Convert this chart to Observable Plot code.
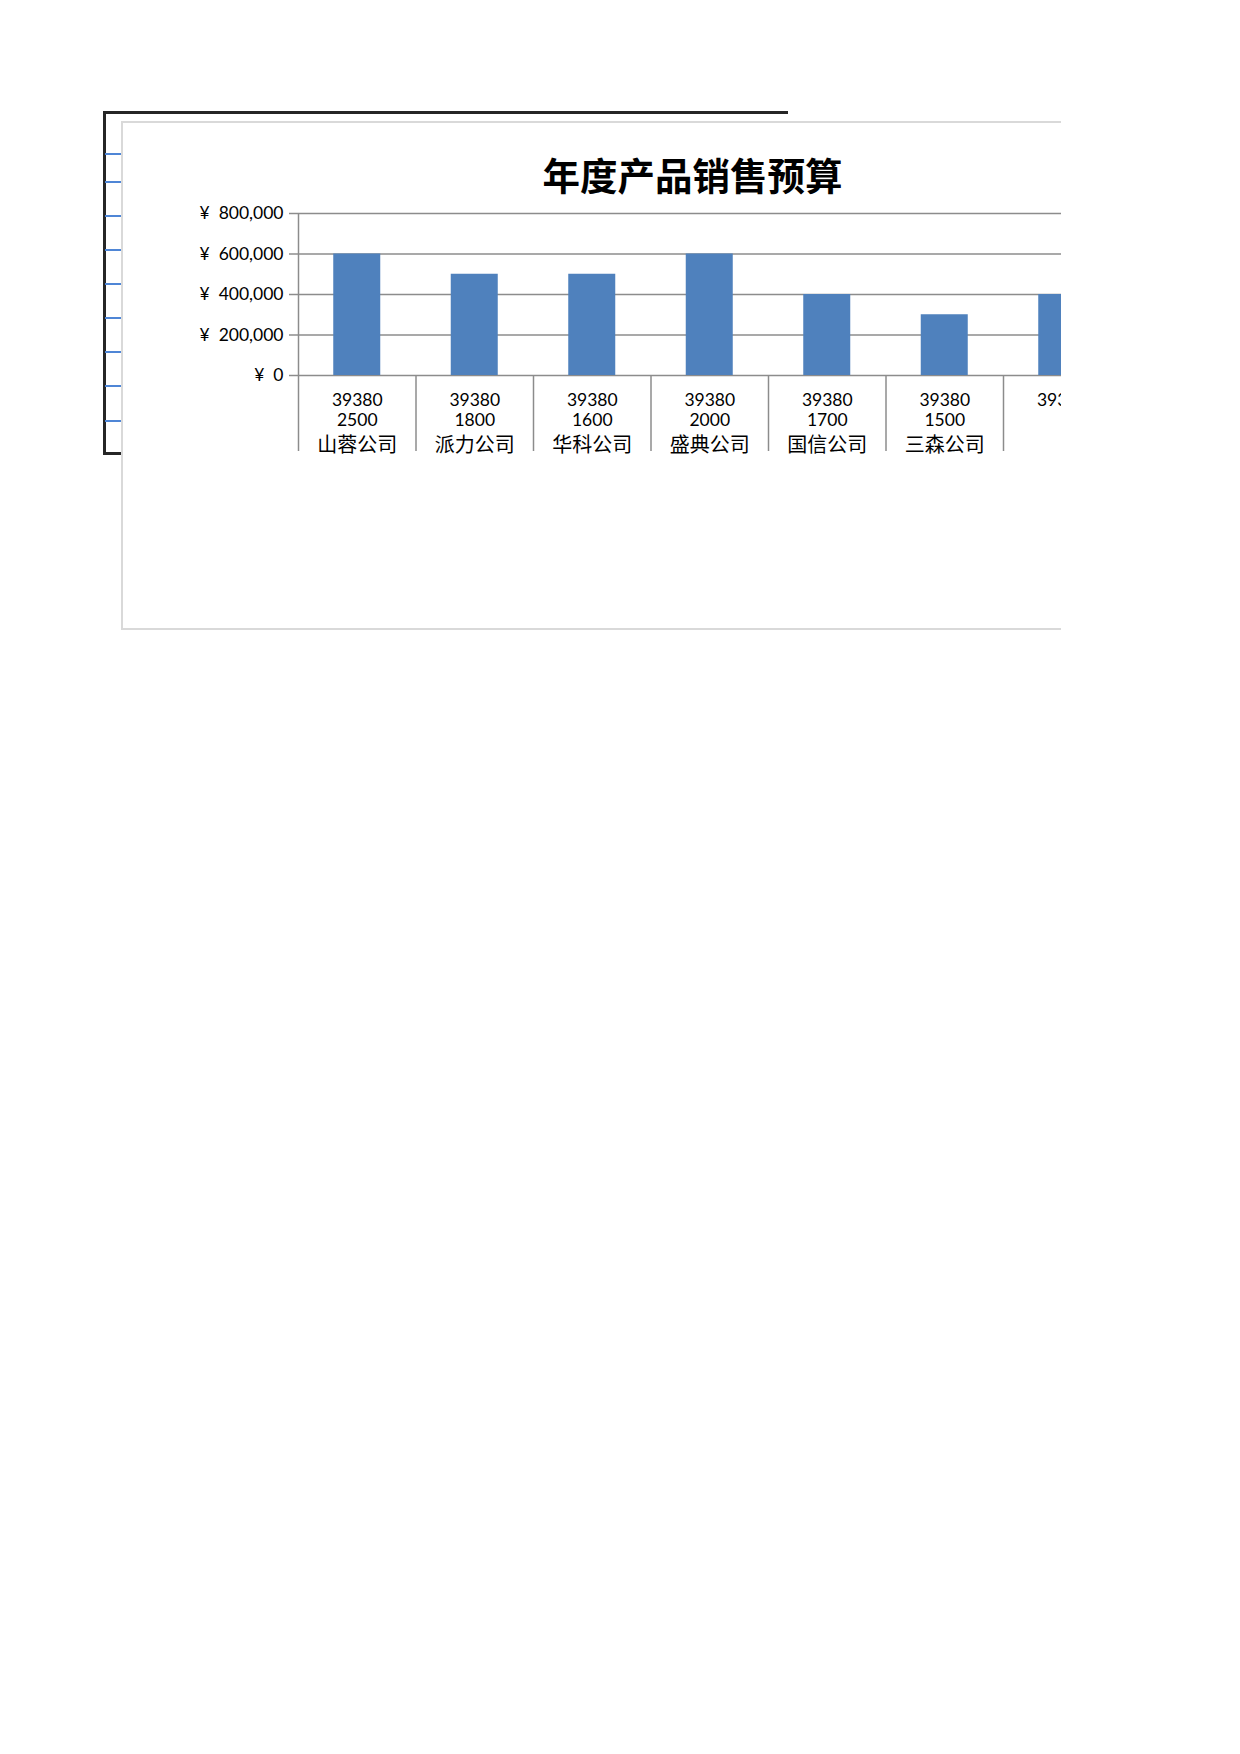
<!DOCTYPE html>
<html>
<head>
<meta charset="utf-8">
<script src="https://cdn.jsdelivr.net/npm/d3@7"></script>
<script src="https://cdn.jsdelivr.net/npm/@observablehq/plot@0.6"></script>
<style>
  html, body { margin: 0; padding: 0; background: #fff; }
  body { width: 1240px; height: 1754px; position: relative; overflow: hidden; }
  .frame-thick { position: absolute; left: 103px; top: 111px; width: 685px; height: 344px;
    box-sizing: border-box; border-left: 3px solid #262626; border-top: 3px solid #262626; border-bottom: 3px solid #262626; }
  .blue { position: absolute; left: 105px; width: 16px; height: 0; border-top: 2px solid #4f86d6; }
  .chartbox { position: absolute; left: 121px; top: 121px; width: 940px; height: 509px; box-sizing: border-box;
    border-left: 2px solid #d9d9d9; border-top: 2px solid #d9d9d9; border-bottom: 2px solid #d9d9d9;
    background: #fff; overflow: hidden; }
  .title { position: absolute; left: 0; top: 32px; width: 1139px; text-align: center;
    font-family: "Noto Sans CJK SC", sans-serif; font-weight: 700; font-size: 37.5px; line-height: 38px; color: #000; }
  #plot { position: absolute; left: 0; top: 0; width: 1200px; }
  #plot svg { max-width: none !important; }
</style>
</head>
<body>
<div class="frame-thick"></div>
<div class="blue" style="top:153px"></div>
<div class="blue" style="top:181px"></div>
<div class="blue" style="top:215px"></div>
<div class="blue" style="top:249px"></div>
<div class="blue" style="top:283px"></div>
<div class="blue" style="top:317px"></div>
<div class="blue" style="top:351px"></div>
<div class="blue" style="top:385px"></div>
<div class="blue" style="top:420px"></div>
<div class="chartbox">
  <div class="title">年度产品销售预算</div>
  <div id="plot"></div>
</div>
<script>
const dates = [39380, 39380, 39380, 39380, 39380, 39380, 39380];
const quantities = ["2500", "1800", "1600", "2000", "1700", "1500", ""];
const companies = ["山蓉公司", "派力公司", "华科公司", "盛典公司", "国信公司", "三森公司", ""];
const budgets = [600000, 500000, 500000, 600000, 400000, 300000, 400000];
const yTicks = [0, 200000, 400000, 600000, 800000];

const rows = budgets.map((b, i) => ({i, budget: b, date: dates[i], qty: quantities[i], company: companies[i]}));
const n = rows.length;
const step = 117.5;
const gridColor = "#8c8c8c";

const chart = Plot.plot({
  width: 175 + n * step,
  height: 342,
  marginLeft: 175,
  marginRight: 0,
  marginTop: 90,
  marginBottom: 90,
  x: {type: "linear", domain: [0, n], axis: null},
  y: {domain: [0, 800000], axis: null},
  style: {fontFamily: "Lato, 'Noto Sans CJK SC', sans-serif", fontSize: "17.5px", color: "#000", background: "transparent", overflow: "visible", maxWidth: "none"},
  marks: [
    Plot.ruleY(yTicks, {stroke: gridColor, strokeWidth: 1.5}),
    Plot.rectY(rows, {x1: "i", x2: d => d.i + 1, y: "budget", fill: "#4f81bd", insetLeft: 35.25, insetRight: 35.25}),
    Plot.ruleX([0], {stroke: gridColor, strokeWidth: 1.5}),
    Plot.axisY({ticks: yTicks, tickSize: 9, tickPadding: 6, stroke: gridColor, strokeWidth: 1.5, label: null,
      tickFormat: d => "¥\u00a0\u00a0" + d3.format(",")(d), fontSize: 17.5, fill: "#000"}),
    Plot.axisX({ticks: d3.range(n + 1), tickSize: 76, tickFormat: () => "", stroke: gridColor, strokeWidth: 1.5, label: null}),
    Plot.text(rows, {x: d => d.i + 0.5, y: 0, text: d => String(d.date), dy: 25, lineAnchor: "middle", fontSize: 17.5, fontFamily: "Lato", fill: "#000"}),
    Plot.text(rows, {x: d => d.i + 0.5, y: 0, text: "qty", dy: 45, lineAnchor: "middle", fontSize: 17.5, fontFamily: "Lato", fill: "#000"}),
    Plot.text(rows, {x: d => d.i + 0.5, y: 0, text: "company", dy: 70, lineAnchor: "middle", fontSize: 20, fontFamily: "'Noto Sans CJK SC'", fill: "#000"})
  ]
});
document.getElementById("plot").appendChild(chart);
</script>
</body>
</html>
